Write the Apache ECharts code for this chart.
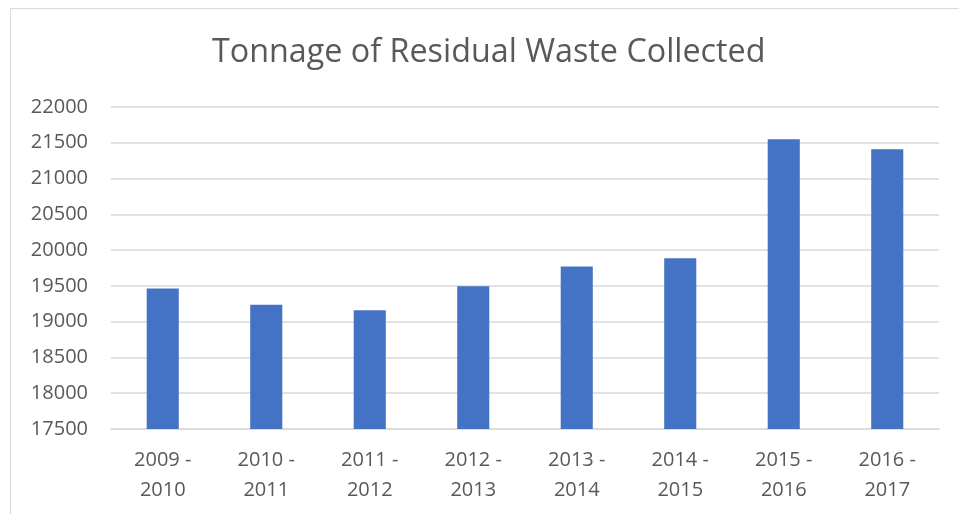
<!DOCTYPE html>
<html>
<head>
<meta charset="utf-8">
<script src="https://cdn.jsdelivr.net/npm/echarts@6/dist/echarts.min.js"></script>
<style>
html,body{margin:0;padding:0;background:#fff;}
#chart{width:959px;height:514px;}
</style>
</head>
<body>
<div id="chart"></div>
<script>
var titleText = 'Tonnage of Residual Waste Collected';
var categories = ['2009 -\n2010','2010 -\n2011','2011 -\n2012','2012 -\n2013','2013 -\n2014','2014 -\n2015','2015 -\n2016','2016 -\n2017'];
var tonnage = [19465, 19235, 19160, 19495, 19770, 19885, 21550, 21410];
var yMin = 17500, yMax = 22000, yStep = 500;

var chart = echarts.init(document.getElementById('chart'), null, {renderer:'canvas'});
chart.setOption({
  animation: false,
  backgroundColor: '#fff',
  graphic: [
    {type:'line', shape:{x1:10.5,y1:8.5,x2:959,y2:8.5}, style:{stroke:'#d9d9d9',lineWidth:1}},
    {type:'line', shape:{x1:10.5,y1:8.5,x2:10.5,y2:514}, style:{stroke:'#d9d9d9',lineWidth:1}}
  ],
  title: {
    text: titleText,
    left: 207,
    top: 32,
    textStyle: {fontFamily:'Open Sans', fontSize:32.3, fontWeight:'normal', color:'#595959'}
  },
  grid: {left:111, right:20, top:107, bottom:85},
  xAxis: {
    type:'category',
    data: categories,
    axisLine:{show:true, lineStyle:{color:'#d9d9d9', width:1.5}},
    axisTick:{show:false},
    axisLabel:{fontFamily:'Open Sans', fontSize:20, color:'#595959', lineHeight:30, margin:16, interval:0}
  },
  yAxis: {
    type:'value',
    min:yMin, max:yMax, interval:yStep,
    axisLine:{show:false},
    axisTick:{show:false},
    splitLine:{lineStyle:{color:'#d9d9d9', width:1.5}},
    axisLabel:{fontFamily:'Open Sans', fontSize:20, color:'#595959', margin:23, formatter:function(v){return String(v);}}
  },
  series: [{
    type:'bar',
    data: tonnage,
    barWidth:'31%',
    itemStyle:{color:'#4472c4'}
  }]
});
</script>
</body>
</html>
